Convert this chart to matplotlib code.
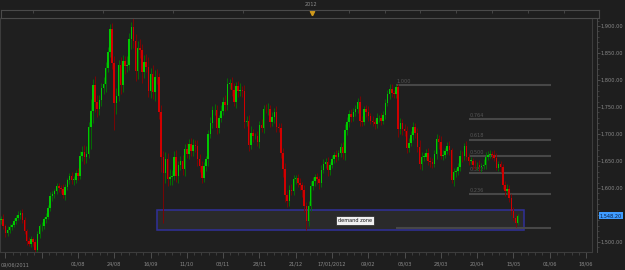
import matplotlib
matplotlib.use('Agg')
import matplotlib.pyplot as plt
import numpy as np
from matplotlib.patches import Rectangle
from matplotlib.ticker import FuncFormatter, MultipleLocator, FixedLocator

# ---------------- data (daily gold, 09/06/2011 .. 17/05/2012) ----------------
first_open = 1540
closes = [
    # Jun 2011
    1543, 1529, 1516, 1522, 1528, 1531, 1539, 1545, 1550, 1553, 1540, 1520, 1502, 1497, 1505, 1500,
    # Jul
    1486, 1515, 1529, 1530, 1542, 1547, 1563, 1585, 1588, 1594, 1603, 1600, 1598, 1587, 1601, 1614,
    1622, 1615, 1615, 1628,
    # Aug
    1622, 1660, 1667, 1658, 1663, 1713, 1742, 1790, 1760, 1746, 1763, 1785, 1792, 1823, 1852, 1895,
    1832, 1757, 1771, 1828, 1790, 1835, 1826,
    # Sep
    1828, 1876, 1898, 1872, 1816, 1860, 1856, 1815, 1834, 1825, 1780, 1812, 1778, 1806, 1805, 1740,
    1657, 1628, 1654, 1617, 1621, 1623,
    # Oct
    1658, 1622, 1642, 1650, 1635, 1673, 1663, 1681, 1668, 1680, 1677, 1653, 1640, 1618, 1641, 1653,
    1700, 1721, 1744, 1744, 1712,
    # Nov
    1730, 1743, 1760, 1754, 1793, 1795, 1782, 1759, 1788, 1779, 1782, 1780, 1722, 1725, 1680, 1702,
    1696, 1696, 1685, 1716, 1712, 1747,
    # Dec
    1746, 1747, 1723, 1731, 1741, 1713, 1712, 1665, 1635, 1587, 1576, 1597, 1595, 1617, 1618, 1609,
    1606, 1596, 1566, 1539, 1566,
    # Jan 2012
    1603, 1613, 1620, 1616, 1609, 1633, 1645, 1649, 1633, 1643, 1654, 1661, 1657, 1664, 1676, 1664,
    1707, 1723, 1737, 1731, 1740,
    # Feb
    1746, 1760, 1725, 1722, 1746, 1741, 1733, 1725, 1722, 1719, 1729, 1730, 1725, 1736, 1757, 1774,
    1784, 1776, 1774, 1787, 1710,
    # Mar
    1720, 1710, 1705, 1674, 1684, 1698, 1713, 1701, 1676, 1645, 1658, 1658, 1665, 1650, 1649, 1645,
    1663, 1690, 1685, 1660, 1662, 1669,
    # Apr
    1677, 1670, 1614, 1629, 1631, 1639, 1660, 1659, 1677, 1658, 1650, 1650, 1643, 1642, 1643, 1638,
    1641, 1643, 1658, 1662, 1663,
    # May
    1662, 1656, 1637, 1644, 1638, 1605, 1594, 1598, 1581, 1558, 1545, 1535, 1548.2,
]
wick_up = [
    6, 8, 5, 7, 6, 5, 6, 5, 7, 6, 8, 6, 5, 7, 6, 5,
    5, 6, 4, 7, 5, 6, 5, 8, 6, 5, 7, 6, 5, 9, 6, 5, 6, 8, 7, 5,
    9, 8, 10, 12, 14, 10, 22, 12, 18, 12, 9, 10, 14, 11, 9, 8, 10, 12, 14, 10, 14, 12, 10,
    16, 12, 9, 16, 14, 12, 16, 10, 12, 14, 18, 10, 16, 12, 14, 8, 14, 12, 12, 10, 14, 10,
    10, 12, 8, 10, 12, 8, 10, 9, 12, 10, 8, 12, 10, 10, 8, 6, 8, 10, 8, 12, 10,
    6, 10, 8, 12, 10, 7, 10, 12, 8, 10, 12, 6, 10, 8, 10, 12, 8, 6, 10, 8, 12, 6,
    8, 10, 6, 10, 8, 10, 8, 8, 10, 12, 10, 8, 10, 8, 6, 8, 10, 6, 10, 8, 10,
    10, 8, 6, 8, 6, 10, 8, 6, 8, 6, 8, 6, 10, 6, 8, 10, 12, 8, 8, 10, 8,
    8, 6, 10, 8, 6, 8, 10, 6, 8, 6, 10, 6, 8, 6, 8, 8, 8, 8, 6, 6, 5,
    10, 8, 8, 10, 8, 8, 10, 8, 10, 12, 8, 6, 8, 10, 8, 6, 8, 10, 8, 12, 8, 6,
    8, 10, 4, 8, 6, 8, 10, 8, 6, 10, 6, 8, 6, 8, 6, 8, 6, 10, 8, 6, 8,
    6, 8, 8, 6, 6, 6, 8, 10, 8, 8, 6, 6, 4,
]
wick_dn = [
    7, 5, 6, 4, 5, 6, 4, 5, 4, 7, 5, 6, 8, 5, 6, 7,
    5, 6, 7, 8, 5, 6, 4, 5, 9, 6, 5, 7, 8, 6, 9, 5, 6, 7, 9, 6,
    7, 6, 10, 14, 12, 8, 40, 22, 20, 15, 10, 12, 10, 14, 8, 10, 12, 50, 20, 10, 16, 12, 14,
    12, 10, 18, 12, 18, 14, 16, 20, 12, 10, 12, 14, 14, 16, 12, 12, 27, 93, 18, 14, 12, 16,
    8, 10, 12, 8, 10, 12, 8, 10, 9, 8, 10, 12, 10, 8, 6, 10, 12, 8, 10, 8, 12,
    10, 8, 8, 12, 10, 10, 12, 8, 10, 10, 8, 12, 10, 8, 12, 8, 10, 6, 8, 10, 8, 10,
    8, 10, 10, 8, 10, 10, 8, 10, 14, 12, 12, 10, 8, 8, 10, 8, 10, 12, 10, 16, 10,
    8, 6, 10, 8, 10, 8, 6, 8, 10, 8, 6, 8, 8, 6, 6, 10, 12, 8, 10, 8, 6,
    6, 8, 10, 8, 6, 10, 8, 6, 8, 10, 8, 6, 8, 6, 8, 6, 10, 8, 8, 8, 15,
    10, 12, 8, 10, 8, 6, 10, 8, 10, 10, 12, 8, 6, 8, 10, 8, 6, 10, 12, 6, 8, 6,
    6, 8, 4, 10, 8, 6, 8, 10, 8, 6, 8, 6, 8, 6, 8, 6, 8, 6, 8, 6, 6,
    8, 6, 4, 6, 8, 6, 8, 6, 6, 8, 6, 8, 4,
]

x_labels = ['01/08', '24/08', '16/09', '11/10', '03/11', '28/11', '21/12', '17/01/2012',
            '09/02', '05/03', '28/03', '20/04', '15/05', '01/06', '18/06']
first_label = '09/06/2011'
nav_label = '2012'

fib_ratios = [1.0, 0.764, 0.618, 0.5, 0.382, 0.236, 0.0]
fib_ratio_labels = ['1.000', '0.764', '0.618', '0.500', '0.382', '0.236', '']
fib_low, fib_high = 1526, 1791
zone_low, zone_high = 1522, 1559
zone_text = 'demand zone'
last_price = 1548.20

# ---------------- layout / style ----------------
W, H = 625, 270
BG = '#1e1e1e'
PLOT_BG = '#1f1f1f'
FRAME = '#3c3c3c'
TXT = '#8a8a8a'
UP, DN = '#00c800', '#d00000'
UP_W, DN_W = '#007800', '#880000'
FS = 3.6

def fx(px):
    return px / W

def fy(py):
    return 1 - py / H

n = min(len(closes), len(wick_up), len(wick_dn))
c = np.array(closes[:n], dtype=float)
o = np.concatenate([[first_open], c[:-1]])
hi = np.maximum(o, c) + np.array(wick_up[:n])
lo = np.minimum(o, c) - np.array(wick_dn[:n])
idx = np.arange(n)

fig = plt.figure(figsize=(W / 100, H / 100), dpi=100)
fig.patch.set_facecolor(BG)

ax = fig.add_axes([fx(0), fy(252), fx(592) - fx(0), fy(17.6) - fy(252)])
ax.set_facecolor(PLOT_BG)
ax.set_xlim(-0.515, 276.8)
ax.set_ylim(1481.5, 1915.6)
for s in ax.spines.values():
    s.set_color(FRAME)
    s.set_linewidth(0.8)

# demand zone
ax.add_patch(Rectangle((73, zone_low), 245 - 73, zone_high - zone_low,
                       facecolor='#2a2a2a', edgecolor='#30309a', linewidth=1.1, zorder=0.5))

# fibonacci levels
fib_start_main, fib_start, fib_end = 185, 219, 257.6
for r, lab in zip(fib_ratios, fib_ratio_labels):
    p = fib_low + r * (fib_high - fib_low)
    xs = fib_start_main if r in (0.0, 1.0) else fib_start
    ax.hlines(p, xs, fib_end, color='#474747', linewidth=1.5, zorder=1)
    if lab:
        ax.annotate(lab, xy=(xs, p), xytext=(0.5, 0.8), textcoords='offset points',
                    fontsize=FS, color='#555555', ha='left', va='bottom', zorder=1)

# candles
up = c >= o
wcol = np.where(up, UP_W, DN_W)
bcol = np.where(up, UP, DN)
ax.vlines(idx, lo, hi, colors=wcol, linewidth=0.6, zorder=2)
body_h = np.maximum(np.abs(c - o), 1.0)
ax.bar(idx, body_h, bottom=np.minimum(o, c), width=0.72, color=bcol, linewidth=0, zorder=3)

ax.text(165.8, 1540.7, zone_text, fontsize=FS, color='#111111', ha='center', va='center', zorder=5,
        bbox=dict(boxstyle='square,pad=0.4', fc='#f0f0f0', ec='#202020', lw=0.5))

# x axis
tick_pos = [36 + 17 * k for k in range(-2, len(x_labels))]
ax.set_xticks(tick_pos)
ax.set_xticklabels(['', ''] + x_labels)
ax.xaxis.set_minor_locator(FixedLocator(np.arange(2, 277, 3.4)))
ax.tick_params(axis='x', which='major', direction='out', length=4, width=0.6, color='#555555',
               labelsize=FS, labelcolor=TXT, pad=3)
ax.tick_params(axis='x', which='minor', direction='out', length=2, width=0.5, color='#4a4a4a')
ax.annotate(first_label, xy=(0, 0), xycoords='axes fraction', xytext=(0.5, -9.3),
            textcoords='offset points', fontsize=FS, color=TXT, ha='left', va='center')
ax.tick_params(axis='y', left=False, labelleft=False)

# right price axis
ax2 = ax.twinx()
ax2.set_ylim(ax.get_ylim())
for k, s in ax2.spines.items():
    s.set_visible(k == 'right')
ax2.spines['right'].set_position(('outward', 3.6))
ax2.spines['right'].set_color('#4a4a4a')
ax2.spines['right'].set_linewidth(0.7)
ax2.yaxis.set_major_locator(MultipleLocator(50))
ax2.yaxis.set_minor_locator(MultipleLocator(10))
ax2.yaxis.set_major_formatter(FuncFormatter(lambda v, p: f'{v:,.2f}'))
ax2.tick_params(axis='y', which='major', direction='out', length=2.2, width=0.6, color='#555555',
                labelsize=FS, labelcolor=TXT, pad=0.6)
ax2.tick_params(axis='y', which='minor', direction='out', length=1.3, width=0.5, color='#4a4a4a')
ax2.annotate(f'{last_price:,.2f}', xy=(1, last_price), xycoords=ax2.get_yaxis_transform(),
             xytext=(5.4, 0), textcoords='offset points', fontsize=FS, color='#061a40',
             ha='left', va='center', annotation_clip=False, zorder=10,
             bbox=dict(boxstyle='square,pad=0.2', fc='#3f9cff', ec='none'))

# navigator bar on top
nav = fig.add_axes([fx(1), fy(17.6), fx(599) - fx(1), fy(9.6) - fy(17.6)])
nav.set_facecolor(BG)
nav.set_xlim(1, 599)
nav.set_ylim(0, 1)
for s in nav.spines.values():
    s.set_color('#4a4a4a')
    s.set_linewidth(0.8)
nav_ticks = [33, 103, 173, 243, 349, 385, 420, 456, 492, 528, 564]
nav.set_xticks(nav_ticks)
nav.tick_params(axis='x', bottom=False, labelbottom=False, top=True, direction='in',
                length=2.2, width=0.5, color='#555555')
nav.set_yticks([])
nav.plot([312], [0.55], marker='v', markersize=3.2, color='#d09a1c', linestyle='none', clip_on=False)
fig.text(fx(311), fy(5), nav_label, fontsize=FS, color=TXT, ha='center', va='center')

fig.savefig('out.png', dpi=100, facecolor=BG)
